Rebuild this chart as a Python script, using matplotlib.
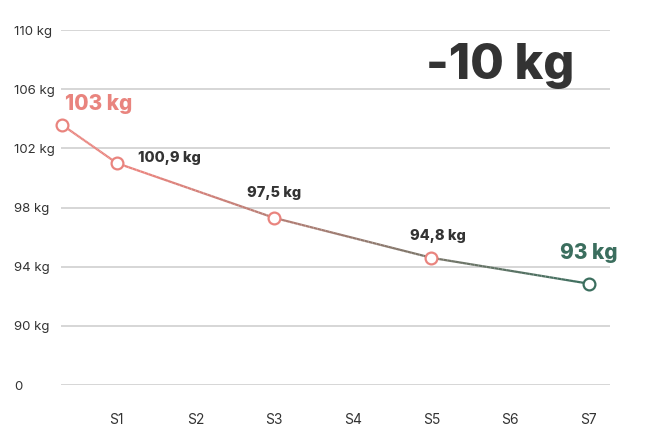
import numpy as np
import matplotlib.pyplot as plt
from matplotlib.collections import LineCollection
from matplotlib.colors import LinearSegmentedColormap

plt.rcParams['font.family'] = ['Inter', 'DejaVu Sans']

# —— data ——
x_pos = [0.3, 1, 3, 5, 7]
weights = [103.6, 101.0, 97.3, 94.6, 92.85]
point_labels = ['103 kg', '100,9 kg', '97,5 kg', '94,8 kg', '93 kg']
x_ticks = [1, 2, 3, 4, 5, 6, 7]
x_labels = ['S1', 'S2', 'S3', 'S4', 'S5', 'S6', 'S7']
y_ticks = [86, 90, 94, 98, 102, 106, 110]
y_labels = ['0', '90 kg', '94 kg', '98 kg', '102 kg', '106 kg', '110 kg']
summary = '-10 kg'

salmon = '#E9847E'
green = '#3B6E5E'
dark = '#333333'

fig = plt.figure(figsize=(6.48, 4.40), dpi=100)
ax = fig.add_axes([61/648, 55/440, (610-61)/648, (385-30)/440])

ax.set_xlim(0.29, 7.27)
ax.set_ylim(86, 110)
ax.set_yticks(y_ticks)
ax.set_yticklabels(y_labels)
ax.set_xticks(x_ticks)
ax.set_xticklabels(x_labels)
ax.grid(axis='y', color='#d0d0d0', linewidth=1.2)
ax.set_axisbelow(True)
for s in ax.spines.values():
    s.set_visible(False)
ax.tick_params(axis='y', length=0, pad=34, labelsize=9.5, labelcolor=dark)
ax.tick_params(axis='x', length=0, pad=20, labelsize=10, labelcolor=dark)
for lab in ax.get_yticklabels():
    lab.set_horizontalalignment('left')

# gradient line (segments split finer only for colouring)
cmap = LinearSegmentedColormap.from_list('sg', [salmon, green])
xs, ys = [], []
for i in range(len(x_pos) - 1):
    t = np.linspace(0, 1, 40, endpoint=False)
    xs.extend(x_pos[i] + t * (x_pos[i+1] - x_pos[i]))
    ys.extend(weights[i] + t * (weights[i+1] - weights[i]))
xs.append(x_pos[-1]); ys.append(weights[-1])
pts = np.array([xs, ys]).T.reshape(-1, 1, 2)
segs = np.concatenate([pts[:-1], pts[1:]], axis=1)
norm = plt.Normalize(x_pos[0] + 1.0, x_pos[-1])
lc = LineCollection(segs, cmap=cmap, norm=norm, linewidth=1.6, clip_on=False, zorder=3)
lc.set_array(np.array(xs[:-1]))
ax.add_collection(lc)

edge_cols = [salmon] * 4 + [green]
for xv, yv, ec in zip(x_pos, weights, edge_cols):
    ax.plot(xv, yv, 'o', ms=8.5, mfc='white', mec=ec, mew=1.6, clip_on=False, zorder=4)

# point labels
ax.annotate(point_labels[0], (x_pos[0], weights[0]), xytext=(2, 15), textcoords='offset points',
            ha='left', va='center', fontsize=15, fontweight=800, color=salmon)
ax.annotate(point_labels[1], (x_pos[1], weights[1]), xytext=(15, 4), textcoords='offset points',
            ha='left', va='center', fontsize=10.5, fontweight=800, color=dark)
ax.annotate(point_labels[2], (x_pos[2], weights[2]), xytext=(0, 18), textcoords='offset points',
            ha='center', va='center', fontsize=10.5, fontweight=800, color=dark)
ax.annotate(point_labels[3], (x_pos[3], weights[3]), xytext=(5, 16), textcoords='offset points',
            ha='center', va='center', fontsize=10.5, fontweight=800, color=dark)
ax.annotate(point_labels[4], (x_pos[4], weights[4]), xytext=(0, 22), textcoords='offset points',
            ha='center', va='center', fontsize=15, fontweight=800, color=green)

fig.text(500/648, 1 - 66/440, summary, ha='center', va='center',
         fontsize=35, fontweight=800, color=dark)

fig.savefig('out.png', dpi=100)
